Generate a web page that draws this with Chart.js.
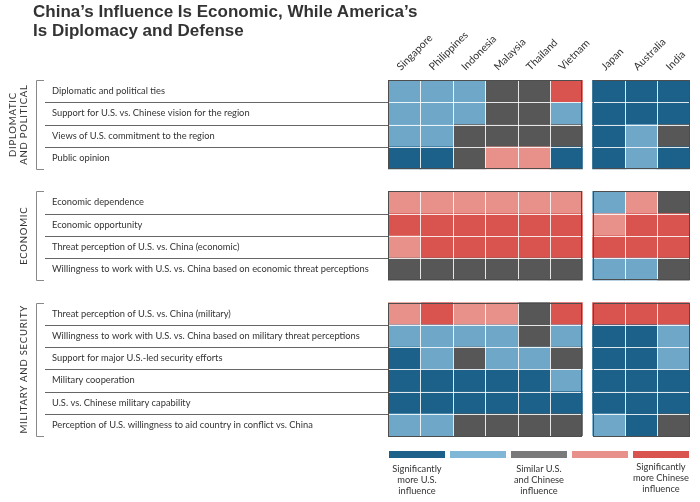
<!DOCTYPE html>
<html>
<head>
<meta charset="utf-8">
<title>China's Influence Is Economic, While America's Is Diplomacy and Defense</title>
<script src="https://cdn.jsdelivr.net/npm/chart.js@4.4.1/dist/chart.umd.min.js"></script>
<style>
  html, body { margin: 0; padding: 0; background: #fff; }
  #wrap { position: relative; width: 700px; height: 502px; overflow: hidden; font-family: Lato, "Open Sans", sans-serif; color: #333; }
  #title { position: absolute; left: 33px; top: 2px; font: bold 17px "Liberation Sans", Arial, sans-serif; line-height: 19px; color: #333; }
  #heatmap { position: absolute; left: 0; top: 0; }
  #legend { position: absolute; left: 389px; top: 451px; display: flex; gap: 5px; }
  .key { width: 56px; text-align: center; font-size: 9.3px; line-height: 11px; color: #333; white-space: nowrap; display: flex; flex-direction: column; align-items: center; }
  .key.last .text { margin-top: -2px; }
  .swatch { width: 56px; height: 7px; margin-bottom: 5px; }
</style>
</head>
<body>
<div id="wrap">
  <canvas id="heatmap" width="700" height="502"></canvas>
  <div id="title">China’s Influence Is Economic, While America’s<br>Is Diplomacy and Defense</div>
  <div id="legend"></div>
</div>
<script>
// --- DATA ---
// 1 = significantly more U.S., 2 = more U.S., 3 = similar, 4 = more Chinese, 5 = significantly more Chinese
const COUNTRIES = ['Singapore', 'Philippines', 'Indonesia', 'Malaysia', 'Thailand', 'Vietnam', 'Japan', 'Australia', 'India'];
const SEA_COUNT = 6; // Southeast Asia block, then Japan / Australia / India

const DIPLOMATIC_ROWS = [
    'Diplomatic and political ties',
    'Support for U.S. vs. Chinese vision for the region',
    'Views of U.S. commitment to the region',
    'Public opinion'
];
const DIPLOMATIC_VALUES = [
    [2, 2, 2, 3, 3, 5, 1, 1, 1],
    [2, 2, 2, 3, 3, 2, 1, 1, 1],
    [2, 2, 3, 3, 3, 3, 1, 2, 3],
    [1, 1, 3, 4, 4, 1, 1, 2, 1]
];

const ECONOMIC_ROWS = [
    'Economic dependence',
    'Economic opportunity',
    'Threat perception of U.S. vs. China (economic)',
    'Willingness to work with U.S. vs. China based on economic threat perceptions'
];
const ECONOMIC_VALUES = [
    [4, 4, 4, 4, 4, 4, 2, 4, 3],
    [5, 5, 5, 5, 5, 5, 4, 5, 5],
    [4, 5, 5, 5, 5, 5, 5, 5, 5],
    [3, 3, 3, 3, 3, 3, 2, 2, 3]
];

const MILITARY_ROWS = [
    'Threat perception of U.S. vs. China (military)',
    'Willingness to work with U.S. vs. China based on military threat perceptions',
    'Support for major U.S.-led security efforts',
    'Military cooperation',
    'U.S. vs. Chinese military capability',
    'Perception of U.S. willingness to aid country in conflict vs. China'
];
const MILITARY_VALUES = [
    [4, 5, 4, 4, 3, 5, 5, 5, 5],
    [2, 2, 2, 2, 3, 2, 1, 1, 2],
    [1, 2, 3, 2, 2, 3, 1, 1, 2],
    [1, 1, 1, 1, 1, 2, 1, 1, 1],
    [1, 1, 1, 1, 1, 1, 1, 1, 1],
    [2, 2, 3, 3, 3, 3, 2, 1, 3]
];

const GROUP_NAMES = [['DIPLOMATIC', 'AND POLITICAL'], ['ECONOMIC'], ['MILITARY AND SECURITY']];
const LEVEL_LABELS = [
    ['Significantly', 'more U.S.', 'influence'],
    [],
    ['Similar U.S.', 'and Chinese', 'influence'],
    [],
    ['Significantly', 'more Chinese', 'influence']
];

// --- STYLE ---
const LEVEL_COLORS = ['#1c6189', '#6ea7c8', '#575757', '#e8918a', '#d9534f'];
const LEGEND_COLORS = ['#1c6189', '#80b6d6', '#7a7a7a', '#e8918a', '#d9534f'];
const BLOCK_GAP = 0.31; // gap between the two country blocks, in columns
const FONT = 'Lato';

// --- LAYOUT (rows with a blank spacer between groups) ---
const groups = [
    { rows: DIPLOMATIC_ROWS, values: DIPLOMATIC_VALUES },
    { rows: ECONOMIC_ROWS, values: ECONOMIC_VALUES },
    { rows: MILITARY_ROWS, values: MILITARY_VALUES }
];
const rowLabels = [];
const rowValues = [];
const spans = [];
groups.forEach((g, gi) => {
    if (gi > 0) { rowLabels.push(' '.repeat(gi)); rowValues.push(null); }
    const start = rowLabels.length;
    g.rows.forEach((r, i) => { rowLabels.push(r); rowValues.push(g.values[i]); });
    spans.push({ name: GROUP_NAMES[gi], start: start, end: rowLabels.length - 1 });
});

const colStart = i => i + (i >= SEA_COUNT ? BLOCK_GAP : 0);
const blocks = [[0, SEA_COUNT - 1], [SEA_COUNT, COUNTRIES.length - 1]];

const datasets = COUNTRIES.map((country, ci) => ({
    label: country,
    data: rowValues.map(v => v ? [colStart(ci), colStart(ci) + 1] : null),
    backgroundColor: rowValues.map(v => v ? LEVEL_COLORS[v[ci] - 1] : 'transparent'),
    borderWidth: 0,
    barPercentage: 1,
    categoryPercentage: 1,
    grouped: false
}));

// --- DECORATIONS: cell dividers, block frames, row rules, group brackets ---
const decorations = {
    id: 'decorations',
    afterDatasetsDraw(chart) {
        const { ctx, scales: { x, y }, chartArea } = chart;
        const half = (y.getPixelForValue(1) - y.getPixelForValue(0)) / 2;
        const snap = v => Math.round(v) + 0.5;
        ctx.save();
        ctx.lineWidth = 1;

        spans.forEach(s => {
            const top = y.getPixelForValue(s.start) - half;
            const bottom = y.getPixelForValue(s.end) + half;

            blocks.forEach(([a, b]) => {
                const left = x.getPixelForValue(colStart(a));
                const right = x.getPixelForValue(colStart(b) + 1);
                ctx.strokeStyle = 'rgba(255,255,255,0.85)';
                ctx.beginPath();
                for (let c = a + 1; c <= b; c++) {
                    const px = snap(x.getPixelForValue(colStart(c)));
                    ctx.moveTo(px, top); ctx.lineTo(px, bottom);
                }
                for (let r = s.start + 1; r <= s.end; r++) {
                    const py = snap(y.getPixelForValue(r) - half);
                    ctx.moveTo(left, py); ctx.lineTo(right, py);
                }
                ctx.stroke();
                ctx.strokeStyle = '#4d4d4d';
                ctx.strokeRect(snap(left), snap(top), Math.round(right - left) - 1, Math.round(bottom - top) - 1);
            });

            // rules between row labels
            ctx.strokeStyle = '#666';
            ctx.beginPath();
            for (let r = s.start + 1; r <= s.end; r++) {
                const py = snap(y.getPixelForValue(r) - half);
                ctx.moveTo(45, py); ctx.lineTo(chartArea.left, py);
            }
            ctx.stroke();

            // bracket
            ctx.strokeStyle = '#888';
            ctx.beginPath();
            ctx.moveTo(44, snap(top)); ctx.lineTo(36.5, snap(top));
            ctx.lineTo(36.5, snap(bottom)); ctx.lineTo(44, snap(bottom));
            ctx.stroke();

            // group name, rotated
            ctx.save();
            ctx.translate(24, (top + bottom) / 2);
            ctx.rotate(-Math.PI / 2);
            ctx.fillStyle = '#333';
            ctx.font = '9.5px ' + FONT;
            ctx.letterSpacing = '0.8px';
            ctx.textAlign = 'center';
            ctx.textBaseline = 'middle';
            s.name.forEach((line, li) => {
                ctx.fillText(line, 0, (li - (s.name.length - 1)) * 11);
            });
            ctx.restore();
        });
        ctx.restore();
    }
};

new Chart(document.getElementById('heatmap'), {
    type: 'bar',
    data: { labels: rowLabels, datasets: datasets },
    options: {
        indexAxis: 'y',
        responsive: false,
        animation: false,
        layout: { padding: { left: 52, right: 10, top: 0, bottom: 66 } },
        plugins: { legend: { display: false }, tooltip: { enabled: false } },
        scales: {
            x: {
                type: 'linear',
                position: 'top',
                min: 0,
                max: colStart(COUNTRIES.length - 1) + 1,
                grid: { display: false, drawTicks: false },
                border: { display: false },
                afterBuildTicks: axis => { axis.ticks = COUNTRIES.map((c, i) => ({ value: colStart(i) + 0.6 })); },
                afterFit: axis => { axis.height = 80; },
                ticks: {
                    autoSkip: false,
                    minRotation: 45,
                    maxRotation: 45,
                    padding: 7,
                    color: '#333',
                    font: { family: FONT, size: 10.5 },
                    callback: (v, i) => COUNTRIES[i]
                }
            },
            y: {
                type: 'category',
                offset: true,
                grid: { display: false, drawTicks: false },
                border: { display: false },
                afterFit: axis => { axis.width = 336; },
                ticks: { crossAlign: 'far', autoSkip: false, color: '#333', font: { family: FONT, size: 9.3 } }
            }
        }
    },
    plugins: [decorations]
});

// --- LEGEND ---
const legend = document.getElementById('legend');
LEGEND_COLORS.forEach((color, i) => {
    const key = document.createElement('div');
    key.className = 'key' + (i === LEGEND_COLORS.length - 1 ? ' last' : '');
    key.innerHTML = `<div class="swatch" style="background:${color}"></div><div class="text">${LEVEL_LABELS[i].join('<br>')}</div>`;
    legend.appendChild(key);
});
</script>
</body>
</html>
